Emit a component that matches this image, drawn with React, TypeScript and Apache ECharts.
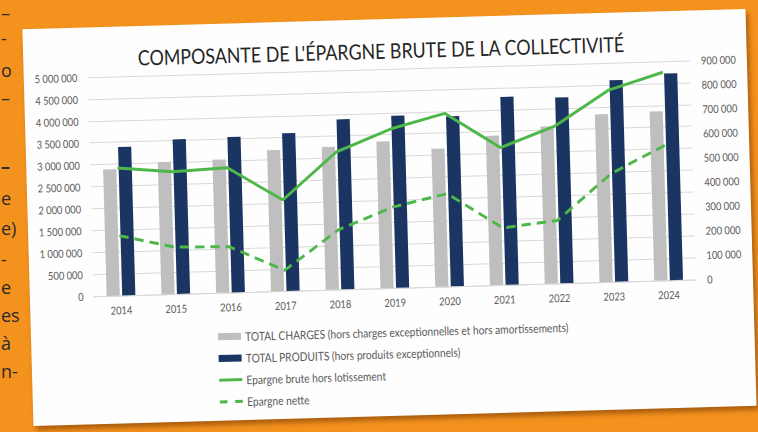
import React, { useEffect, useRef } from "react";
import * as echarts from "echarts";

// ---- data ----
const years = ["2014", "2015", "2016", "2017", "2018", "2019", "2020", "2021", "2022", "2023", "2024"];
const totalCharges = [2885000, 3020000, 3040000, 3220000, 3260000, 3350000, 3150000, 3410000, 3590000, 3830000, 3860000];
const totalProduits = [3390000, 3530000, 3550000, 3600000, 3880000, 3930000, 3880000, 4290000, 4240000, 4600000, 4720000];
const epargneBrute = [524000, 503000, 513000, 374000, 565000, 653000, 711000, 564000, 646000, 788000, 855000];
const epargneNette = [246000, 193000, 188000, 85000, 245000, 332000, 381000, 234000, 258000, 444000, 555000];

const seriesNames = [
  "TOTAL CHARGES (hors charges exceptionnelles et hors amortissements)",
  "TOTAL PRODUITS (hors produits exceptionnels)",
  "Epargne brute hors lotissement",
  "Epargne nette",
];
const titleText = "COMPOSANTE DE L'ÉPARGNE BRUTE DE LA COLLECTIVITÉ";

// fragments of the page text visible at the left edge
const fragments = [
  { t: "–", y: 15, b: false },
  { t: "-", y: 40, b: false },
  { t: "o", y: 72, b: false },
  { t: "–", y: 100, b: false },
  { t: "–", y: 168, b: true },
  { t: "e", y: 200, b: false },
  { t: "e)", y: 230, b: false },
  { t: "-", y: 261, b: false },
  { t: "e", y: 289, b: false },
  { t: "es", y: 317, b: false },
  { t: "à", y: 345, b: false },
  { t: "n-", y: 373, b: false },
];

const SX = 0.85; // horizontal condensing of the card
const CARD_W = 723 / SX;
const CARD_H = 397;

const fmt = (v: number) => String(v).replace(/\B(?=(\d{3})+(?!\d))/g, " ");

export default function App() {
  const ref = useRef<HTMLDivElement>(null);

  useEffect(() => {
    if (!ref.current) return;
    const chart = echarts.init(ref.current, null, { renderer: "svg" });
    const font = "Lato, 'Liberation Sans', sans-serif";
    const green = "#4DB849";
    chart.setOption({
      animation: false,
      backgroundColor: "transparent",
      textStyle: { fontFamily: font },
      title: {
        text: titleText,
        left: 416,
        textAlign: "center",
        top: 16,
        textStyle: { fontFamily: font, fontSize: 21, fontWeight: "normal", color: "#262626" },
      },
      grid: { left: 75, right: 67, top: 50, bottom: 128, outerBoundsMode: "none" },
      legend: {
        orient: "vertical",
        left: 215,
        top: 301,
        itemWidth: 27,
        itemHeight: 7,
        itemGap: 7.7,
        textStyle: { fontFamily: font, fontSize: 12, color: "#595959", lineHeight: 14 },
        data: [
          { name: seriesNames[0], icon: "rect" },
          { name: seriesNames[1], icon: "rect" },
          { name: seriesNames[2], icon: "path://M0,0h27v3h-27z" },
          { name: seriesNames[3], icon: "path://M0,0h9v3h-9zM18,0h9v3h-9z" },
        ],
      },
      xAxis: {
        type: "category",
        data: years,
        axisLine: { lineStyle: { color: "#D9D9D9" } },
        axisTick: { show: false },
        axisLabel: { margin: 9, fontSize: 11, color: "#595959", fontFamily: font },
      },
      yAxis: [
        {
          type: "value",
          min: 0,
          max: 5000000,
          interval: 500000,
          axisLine: { show: false },
          axisTick: { show: false },
          splitLine: { lineStyle: { color: "#D9D9D9", width: 1 } },
          axisLabel: { margin: 12, fontSize: 11, color: "#595959", fontFamily: font, formatter: fmt },
        },
        {
          type: "value",
          min: 0,
          max: 900000,
          interval: 100000,
          axisLine: { show: false },
          axisTick: { show: false },
          splitLine: { show: false },
          axisLabel: { margin: 13, fontSize: 11, color: "#595959", fontFamily: font, formatter: fmt },
        },
      ],
      series: [
        {
          name: seriesNames[0],
          type: "bar",
          data: totalCharges,
          barWidth: 15.5,
          barGap: "18%",
          itemStyle: { color: "#BFBFBF" },
        },
        {
          name: seriesNames[1],
          type: "bar",
          data: totalProduits,
          barWidth: 15.5,
          barGap: "18%",
          itemStyle: { color: "#1B3563" },
        },
        {
          name: seriesNames[2],
          type: "line",
          yAxisIndex: 1,
          data: epargneBrute,
          symbol: "none",
          itemStyle: { color: green },
          lineStyle: { color: green, width: 3 },
        },
        {
          name: seriesNames[3],
          type: "line",
          yAxisIndex: 1,
          data: epargneNette,
          symbol: "none",
          itemStyle: { color: green },
          lineStyle: { color: green, width: 3, type: [11, 7] },
        },
      ],
    });
    return () => chart.dispose();
  }, []);

  return (
    <div
      style={{
        position: "absolute",
        left: 0,
        top: 0,
        width: 758,
        height: 432,
        overflow: "hidden",
        background: "#F4921E",
      }}
    >
      {fragments.map((f, i) => (
        <span
          key={i}
          style={{
            position: "absolute",
            left: 1,
            top: f.y - 11,
            fontFamily: "'Open Sans', sans-serif",
            fontSize: 18,
            lineHeight: "18px",
            fontWeight: f.b ? 700 : 400,
            color: "#2a2a2a",
            whiteSpace: "nowrap",
          }}
        >
          {f.t}
        </span>
      ))}
      <div
        ref={ref}
        style={{
          position: "absolute",
          left: 389 - CARD_W / 2,
          top: 217.5 - CARD_H / 2,
          width: CARD_W,
          height: CARD_H,
          background: "#FEFEFE",
          transform: `rotate(-1.6deg) scaleX(${SX})`,
          transformOrigin: "50% 50%",
          boxShadow: "3px 4px 6px rgba(110,50,0,0.55)",
        }}
      />
    </div>
  );
}
